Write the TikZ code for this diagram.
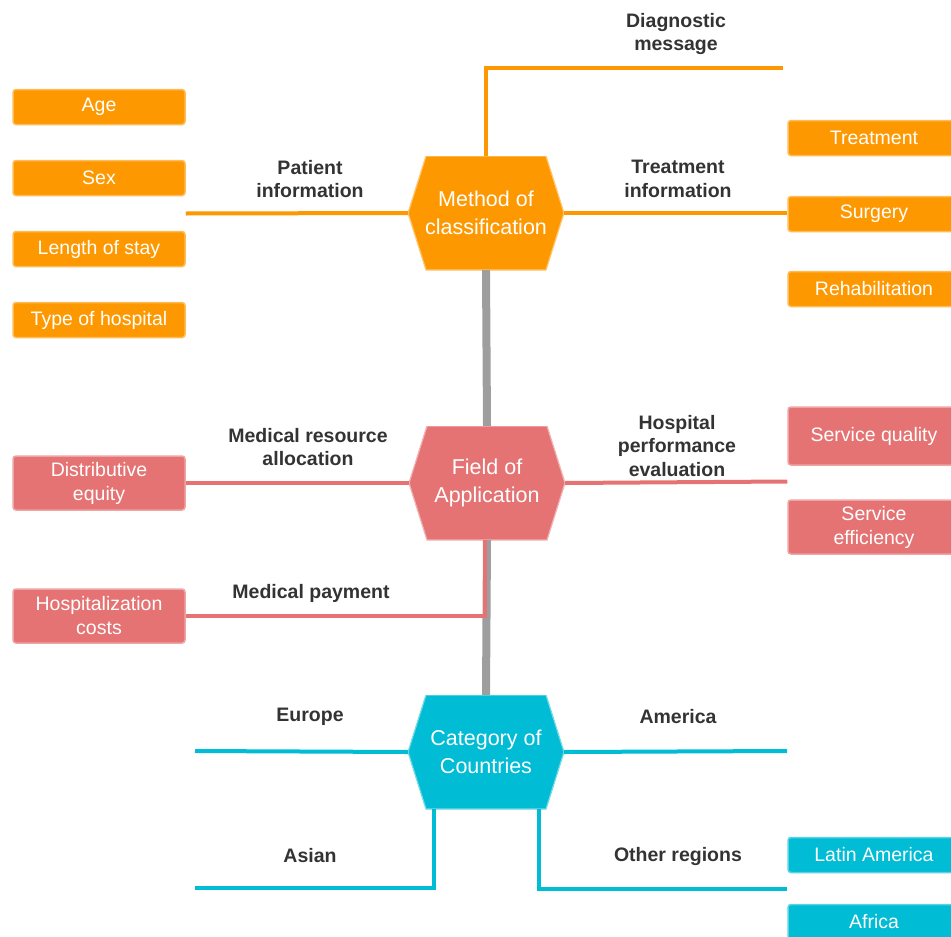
\documentclass[tikz,border=0pt]{standalone}
\usepackage{fontspec}
\setmainfont{Liberation Sans}
\usetikzlibrary{calc}
\definecolor{orng}{RGB}{254,152,0}
\definecolor{rosy}{RGB}{229,115,115}
\definecolor{cyn}{RGB}{0,188,212}
\definecolor{greyline}{RGB}{158,158,158}
\definecolor{txt}{RGB}{51,51,51}

\begin{document}
\begin{tikzpicture}[x=1pt,y=-1pt,
  box/.style={draw=#1!65!white, fill=#1, rounded corners=3pt, line width=1.5pt,
    minimum width=172pt, minimum height=35pt, inner sep=0pt, text=white,
    font=\fontsize{19.5}{24}\selectfont, align=center},
  tag/.style={text=txt, font=\bfseries\fontsize{19.5}{23.5}\selectfont, align=center},
  hub/.style={minimum width=156pt, minimum height=114pt, inner sep=0pt, text=white,
    font=\fontsize{21.5}{28}\selectfont, align=center,
    path picture={\filldraw[fill=#1, draw=#1!55!white, line width=1.2pt]
      (path picture bounding box.west)
      -- ([xshift=18pt]path picture bounding box.north west)
      -- ([xshift=-18pt]path picture bounding box.north east)
      -- (path picture bounding box.east)
      -- ([xshift=-18pt]path picture bounding box.south east)
      -- ([xshift=18pt]path picture bounding box.south west) -- cycle;}},
  link/.style={line width=4pt, draw=#1}]
\useasboundingbox (0,0) rectangle (951,937);

% hubs
\node[hub=orng] (method) at (486,213) {Method of\\classification};
\node[hub=rosy] (field) at (487,483) {Field of\\Application};
\node[hub=cyn] (country) at (486,752) {Category of\\Countries};

% boxes
\node[box=orng] (age) at (99,107) {Age};
\node[box=orng] (sex) at (99,178) {Sex};
\node[box=orng] (los) at (99,249) {Length of stay};
\node[box=orng] (type) at (99,320) {Type of hospital};
\node[box=orng] (treat) at (874,138) {Treatment};
\node[box=orng] (surgery) at (874,214) {Surgery};
\node[box=orng] (rehab) at (874,289) {Rehabilitation};

\node[box=rosy, minimum height=54pt] (distrib) at (99,483) {Distributive\\equity};
\node[box=rosy, minimum height=54pt] (hosp) at (99,616) {Hospitalization\\costs};
\node[box=rosy, minimum height=58pt] (squal) at (874,436) {Service quality};
\node[box=rosy, minimum height=54pt] (seff) at (874,527) {Service\\efficiency};

\node[box=cyn] (latin) at (874,855) {Latin America};
\node[box=cyn] (africa) at (874,922) {Africa};

% labels
\node[tag] (diag) at (676,34) {Diagnostic\\message};
\node[tag] (patinfo) at (310,179) {Patient\\information};
\node[tag] (treatinfo) at (678,179) {Treatment\\information};
\node[tag] (alloc) at (308,447) {Medical resource\\allocation};
\node[tag] (perf) at (677,446) {Hospital\\performance\\evaluation};
\node[tag] (pay) at (311,593) {Medical payment};
\node[tag] (europe) at (310,717) {Europe};
\node[tag] (america) at (678,717) {America};
\node[tag] (asian) at (310,856) {Asian};
\node[tag] (other) at (678,856) {Other regions};

% connectors
\coordinate (diagend) at (783,68);
\coordinate (eurend) at (195,751);
\coordinate (amend) at (787,751);
\coordinate (asiaend) at (195,888);

\draw[line width=8pt, greyline] (method.south) -- (field.north);
\draw[line width=8pt, greyline] (field.south) -- (country.north);

\draw[link=orng] ($(sex.east)!.5!(los.east)$) -- (method.west);
\draw[link=orng] (method.north) |- (diagend);
\draw[link=orng] (method.east) -- (method.east -| surgery.west);

\draw[link=rosy] (distrib.east) -- (field.west);
\draw[link=rosy] (hosp.east) -| ([xshift=-2pt]field.south);
\draw[link=rosy] (field.east) -- ($(squal.west)!.5!(seff.west)$);

\draw[link=cyn] (country.west) -- (eurend);
\draw[link=cyn] (country.east) -- (amend);
\draw[link=cyn] ([xshift=-52pt]country.south) |- (asiaend);
\draw[link=cyn] ([xshift=53pt]country.south) |- ($(latin.west)!.5!(africa.west)$);
\end{tikzpicture}
\end{document}
